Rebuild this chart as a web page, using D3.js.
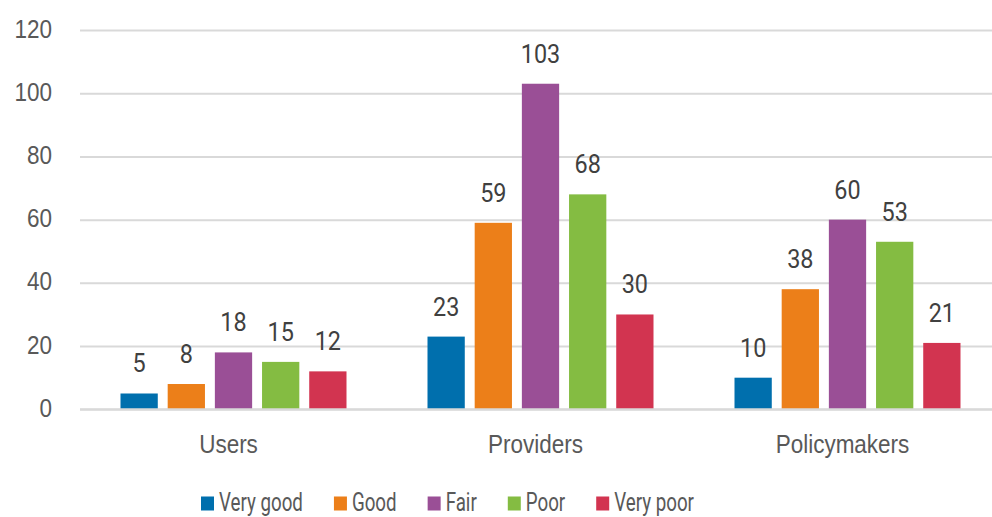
<!DOCTYPE html>
<html>
<head>
<meta charset="utf-8">
<script src="https://cdn.jsdelivr.net/npm/d3@7"></script>
<style>
  html, body { margin: 0; padding: 0; background: #fff; }
  svg { display: block; font-family: Roboto, "Liberation Sans", sans-serif; }
</style>
</head>
<body>
<svg id="chart" width="992" height="517"></svg>
<script>
// Survey ratings by respondent group
const categories = ["Users", "Providers", "Policymakers"];
const seriesNames = ["Very good", "Good", "Fair", "Poor", "Very poor"];
const veryGood = [5, 23, 10];
const good = [8, 59, 38];
const fair = [18, 103, 60];
const poor = [15, 68, 53];
const veryPoor = [12, 30, 21];
const yTicks = [0, 20, 40, 60, 80, 100, 120];
const colors = ["#006FAD", "#EC7F19", "#9A4F96", "#84BC42", "#D23450"];

const seriesValues = [veryGood, good, fair, poor, veryPoor];
const series = seriesNames.map((name, i) => ({ name, color: colors[i], values: seriesValues[i] }));

const svg = d3.select("#chart");
const squeeze = 0.9;           // horizontal text compression
const legendSqueeze = 0.75;
const textColor = "#595959";
const labelColor = "#404040";
const gridColor = "#D9D9D9";

const x0 = d3.scaleBand().domain(categories).range([80, 1001]).paddingInner(0).paddingOuter(0);
const groupWidth = 226;
const x1 = d3.scaleBand().domain(seriesNames)
  .range([(x0.bandwidth() - groupWidth) / 2, (x0.bandwidth() + groupWidth) / 2])
  .paddingInner(0.21).paddingOuter(0);
const y = d3.scaleLinear().domain([0, 120]).range([409.3, 30]);

// gridlines + y tick labels
const yAxis = d3.axisLeft(y).tickValues(yTicks).tickSize(-(992 - 80)).tickPadding(28).tickFormat(d3.format("d"));
const gy = svg.append("g").attr("transform", "translate(80,0)").call(yAxis);
gy.select(".domain").remove();
gy.selectAll(".tick line").attr("stroke", gridColor).attr("stroke-width", 2);
gy.selectAll(".tick text")
  .attr("fill", textColor)
  .style("font-size", "25px")
  .attr("dy", "0.28em")
  .attr("x", function () { return +d3.select(this).attr("x") / squeeze; })
  .attr("transform", `scale(${squeeze},1)`);

// bars
const groups = svg.append("g").selectAll("g")
  .data(categories)
  .join("g")
  .attr("transform", d => `translate(${x0(d)},0)`);

groups.selectAll("rect")
  .data((c, ci) => series.map(s => ({ key: s.name, color: s.color, value: s.values[ci] })))
  .join("rect")
  .attr("x", d => x1(d.key))
  .attr("y", d => y(d.value))
  .attr("width", x1.bandwidth())
  .attr("height", d => y(0) - y(d.value))
  .attr("fill", d => d.color);

// value labels
groups.selectAll("text.value")
  .data((c, ci) => series.map(s => ({ key: s.name, value: s.values[ci] })))
  .join("text")
  .attr("class", "value")
  .attr("text-anchor", "middle")
  .attr("transform", `scale(${squeeze},1)`)
  .attr("x", d => (x1(d.key) + x1.bandwidth() / 2) / squeeze)
  .attr("y", d => y(d.value) - 21)
  .attr("fill", labelColor)
  .style("font-size", "26px")
  .text(d => d.value);

// x axis
const xAxis = d3.axisBottom(x0).tickSize(0).tickPadding(0);
const gx = svg.append("g").attr("transform", `translate(0,${y(0)})`).call(xAxis);
gx.select(".domain").remove();
gx.selectAll(".tick text")
  .attr("fill", textColor)
  .style("font-size", "25px")
  .attr("dy", null)
  .attr("y", 44)
  .attr("x", -5 / squeeze)
  .attr("transform", `scale(${squeeze},1)`);

// baseline
svg.append("line")
  .attr("x1", 80).attr("x2", 992)
  .attr("y1", y(0)).attr("y2", y(0))
  .attr("stroke", gridColor).attr("stroke-width", 2);

// legend
const legend = svg.append("g").attr("transform", "translate(201,0)");
let lx = 0;
series.forEach(s => {
  const item = legend.append("g").attr("transform", `translate(${lx},0)`);
  item.append("rect").attr("x", 0).attr("y", 496.5).attr("width", 13).attr("height", 14).attr("fill", s.color);
  const t = item.append("text")
    .attr("transform", `scale(${legendSqueeze},1)`)
    .attr("x", 18 / legendSqueeze)
    .attr("y", 511)
    .attr("fill", textColor)
    .style("font-size", "25px")
    .text(s.name);
  const w = t.node().getComputedTextLength() * legendSqueeze;
  lx += 18 + w + 31;
});
</script>
</body>
</html>
